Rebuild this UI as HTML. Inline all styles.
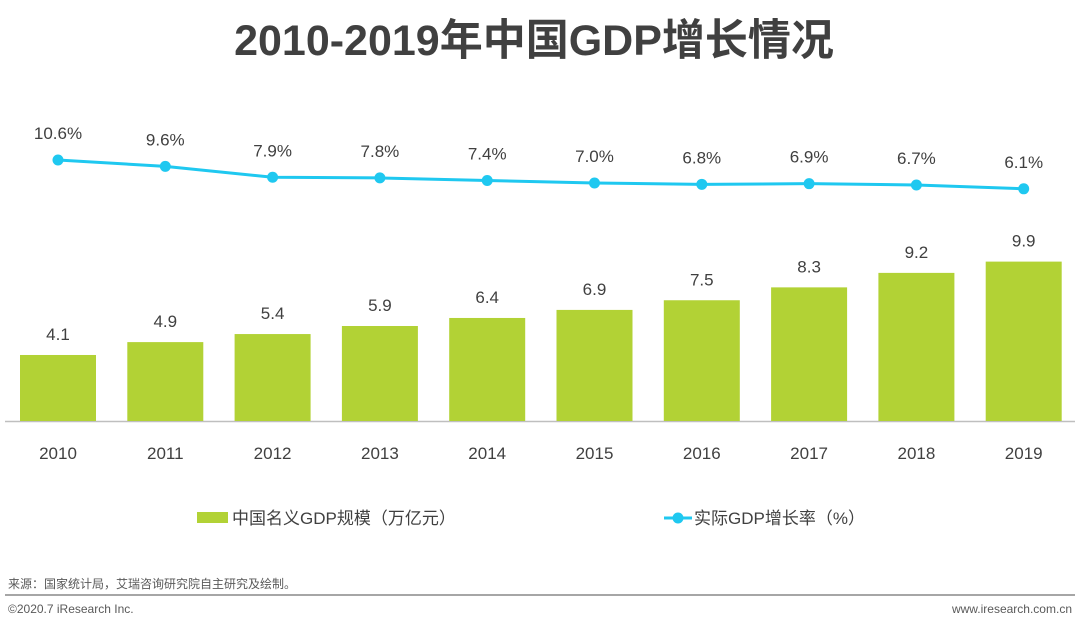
<!DOCTYPE html>
<html><head><meta charset="utf-8">
<style>
body{margin:0;background:#fff;width:1080px;height:629px;overflow:hidden;font-family:"Liberation Sans","Noto Sans CJK SC",sans-serif;}
svg text{font-family:"Liberation Sans","Noto Sans CJK SC",sans-serif;}
</style></head>
<body>
<svg id="chart" width="1080" height="629" xmlns="http://www.w3.org/2000/svg">
<text x="534" y="55" text-anchor="middle" font-size="43" font-weight="bold" fill="#404040">2010-2019年中国GDP增长情况</text>
<line x1="5" y1="421.5" x2="1075" y2="421.5" stroke="#bfbfbf" stroke-width="1.5"/>
<g id="bars"></g><g id="line"></g><g id="labels"></g>
<g>
<rect x="197" y="512" width="31" height="11" fill="#b2d235"/>
<text x="232" y="524" font-size="17" fill="#404040">中国名义GDP规模（万亿元）</text>
<line x1="664" y1="518" x2="692" y2="518" stroke="#1fc8f0" stroke-width="3"/>
<circle cx="678" cy="518" r="5.5" fill="#1fc8f0"/>
<text x="694" y="524" font-size="17" fill="#404040">实际GDP增长率（%）</text>
</g>
<text x="8" y="588" font-size="12" fill="#595959">来源：国家统计局，艾瑞咨询研究院自主研究及绘制。</text>
<line x1="5" y1="595" x2="1075" y2="595" stroke="#a6a6a6" stroke-width="2"/>
<text x="8" y="613" font-size="12" fill="#595959">©2020.7 iResearch Inc.</text>
<text x="1072" y="613" font-size="12" fill="#595959" text-anchor="end">www.iresearch.com.cn</text>
</svg>
<script>
const years=["2010","2011","2012","2013","2014","2015","2016","2017","2018","2019"];
const gdp=[4.1,4.9,5.4,5.9,6.4,6.9,7.5,8.3,9.2,9.9];
const gdpLabels=["4.1","4.9","5.4","5.9","6.4","6.9","7.5","8.3","9.2","9.9"];
const growth=[10.6,9.6,7.9,7.8,7.4,7.0,6.8,6.9,6.7,6.1];
const growthLabels=["10.6%","9.6%","7.9%","7.8%","7.4%","7.0%","6.8%","6.9%","6.7%","6.1%"];
const NS="http://www.w3.org/2000/svg";
const xC=i=>58+i*107.3;
const yBar=v=>421-v*16.1;
const yLine=v=>160-(v-10.6)*6.4;
function mk(t,a,p){const e=document.createElementNS(NS,t);for(const k in a)e.setAttribute(k,a[k]);p.appendChild(e);return e;}
const gb=document.getElementById('bars'),gl=document.getElementById('line'),gt=document.getElementById('labels');
years.forEach((y,i)=>{
 const r=mk('rect',{x:xC(i)-38,y:yBar(gdp[i]),width:76,height:421-yBar(gdp[i]),fill:'#b2d235'},gb);
 
 
 const t=mk('text',{x:xC(i),y:yBar(gdp[i])-15,'text-anchor':'middle','font-size':'17',fill:'#404040'},gt);t.textContent=gdpLabels[i];
 
 
 const c=mk('text',{x:xC(i),y:459,'text-anchor':'middle','font-size':'17',fill:'#404040'},gt);c.textContent=y;
 
 
 const l=mk('text',{x:xC(i),y:yLine(growth[i])-21,'text-anchor':'middle','font-size':'17',fill:'#404040'},gt);l.textContent=growthLabels[i];
 
 
});
const pl=mk('polyline',{points:growth.map((v,i)=>xC(i)+','+yLine(v)).join(' '),fill:'none',stroke:'#1fc8f0','stroke-width':'3'},gl);


growth.forEach((v,i)=>{
 const c=mk('circle',{cx:xC(i),cy:yLine(v),r:5.5,fill:'#1fc8f0'},gl);
 
 
});
</script>
</body></html>
